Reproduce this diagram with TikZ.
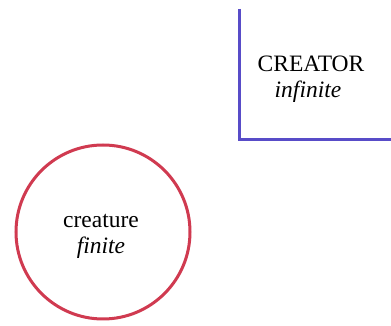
\documentclass[tikz,border=0pt]{standalone}
\usepackage{fontspec}
\setmainfont{Liberation Serif}
\definecolor{linkblue}{RGB}{88,76,200}
\definecolor{ringred}{RGB}{208,58,80}
\begin{document}
\begin{tikzpicture}[x=1pt,y=1pt,
  txt/.style={inner sep=0pt,anchor=base,font=\fontsize{23.5}{27}\selectfont\rmfamily,text=black},
  itxt/.style={txt,font=\fontsize{23.5}{27}\selectfont\rmfamily\itshape}]
\useasboundingbox (0,0) rectangle (391,326);
% creator frame
\coordinate (ctop) at (239,317);
\coordinate (corner) at (239,186);
\coordinate (cright) at (392,186);
\draw[linkblue,line width=3pt,line join=miter] (ctop) -- (corner) -- (cright);
\node[txt] (creator) at (311,254) {CREATOR};
\node[itxt] (infinite) at (308,228) {infinite};
% creature circle
\node[draw=ringred,line width=3pt,circle,minimum size=174pt,inner sep=0pt] (ring) at (103,94) {};
\node[txt] (creature) at (101,98) {creature};
\node[itxt] (finite) at (101,72) {finite};
\end{tikzpicture}
\end{document}
